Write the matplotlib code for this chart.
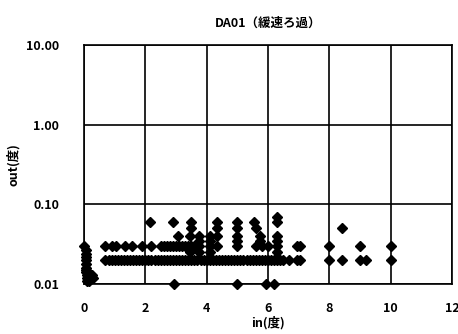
import matplotlib

matplotlib.use("Agg")
import matplotlib.pyplot as plt

plt.rcParams["font.family"] = ["Noto Sans CJK JP", "DejaVu Sans"]

TITLE = "DA01（緩速ろ過）"
XLABEL = "in(度)"
YLABEL = "out(度)"
X_TICKS = [0, 2, 4, 6, 8, 10, 12]
Y_TICKS = [0.01, 0.1, 1, 10]
Y_TICK_LABELS = ["0.01", "0.10", "1.00", "10.00"]

# samples near in=0 (low turbidity cluster)
near0_in = [0.0, 0.05, 0.05, 0.05, 0.05, 0.05, 0.05, 0.05, 0.05, 0.1, 0.1, 0.15, 0.2, 0.25, 0.3, 0.1]
near0_out = [0.03, 0.027, 0.024, 0.022, 0.02, 0.018, 0.016, 0.015, 0.014, 0.013, 0.012, 0.011,
             0.012, 0.013, 0.012, 0.011]

# out = 0.01
row01_in = [2.95, 5.0, 5.95, 6.2]
# out = 0.02
row02_in = [0.7, 0.8, 0.9, 1.0, 1.1, 1.2, 1.3, 1.4, 1.5, 1.6, 1.7, 1.8, 1.9, 2.0, 2.1, 2.2,
            2.3, 2.4, 2.5, 2.6, 2.7, 2.8, 2.9, 3.0, 3.1, 3.2, 3.3, 3.4, 3.5, 3.6, 3.7, 3.8,
            3.9, 4.0, 4.1, 4.2, 4.3, 4.4, 4.5, 4.6, 4.7, 4.8, 4.9, 5.0, 5.1, 5.2, 5.3, 5.4,
            5.5, 5.6, 5.7, 5.8, 5.9, 6.0, 6.1, 6.2, 6.3, 6.4, 6.5, 6.7, 6.95, 7.05,
            8.0, 8.4, 9.0, 9.2, 10.0]
# out = 0.025
row025_in = [3.45, 3.75, 4.1, 6.3]
# out = 0.03
row03_in = [0.7, 0.9, 1.05, 1.35, 1.55, 1.9, 2.2, 2.5, 2.6, 2.7, 2.8, 2.9, 3.0, 3.1, 3.2,
            3.3, 3.4, 3.5, 3.6, 3.75, 4.1, 4.35, 5.0, 5.6, 5.8, 6.0, 6.3, 6.95, 7.05,
            8.0, 9.0, 10.0]
# out = 0.035
row035_in = [3.75, 4.1, 5.0, 5.75, 6.3]
# out = 0.04
row04_in = [3.05, 3.45, 3.75, 4.1, 4.35, 5.0, 5.75, 6.3]
# out = 0.05
row05_in = [3.5, 4.35, 5.0, 5.6, 8.4]
# out = 0.06
row06_in = [2.15, 2.9, 3.5, 4.35, 5.0, 5.55, 6.3]
# out = 0.07
row07_in = [6.3]

rows = [
    (row01_in, 0.01), (row02_in, 0.02), (row025_in, 0.025), (row03_in, 0.03),
    (row035_in, 0.035), (row04_in, 0.04), (row05_in, 0.05), (row06_in, 0.06),
    (row07_in, 0.07),
]

x_in = list(near0_in)
y_out = list(near0_out)
for xs, yv in rows:
    x_in += xs
    y_out += [yv] * len(xs)

fig = plt.figure(figsize=(4.58, 3.34), dpi=100)
ax = fig.add_axes([84 / 458, 50 / 334, 368 / 458, 239 / 334])

ax.plot(x_in, y_out, linestyle="none", marker="D", markersize=5.5,
        color="black", markeredgecolor="black", clip_on=False)

ax.set_yscale("log")
ax.set_xlim(0, 12)
ax.set_ylim(0.01, 10)
ax.set_xticks(X_TICKS, [str(t) for t in X_TICKS])
ax.set_yticks(Y_TICKS, Y_TICK_LABELS)
ax.yaxis.set_minor_locator(matplotlib.ticker.NullLocator())
ax.tick_params(length=0, labelsize=9, pad=13)
ax.tick_params(axis="y", pad=18)
for lab in ax.get_xticklabels() + ax.get_yticklabels():
    lab.set_fontweight("bold")
ax.grid(True, color="black", linewidth=1.2)
ax.set_axisbelow(True)
for sp in ax.spines.values():
    sp.set_linewidth(1.2)

ax.set_title(TITLE, fontsize=9, fontweight="bold", pad=13)
ax.set_xlabel(XLABEL, fontsize=9, fontweight="bold", labelpad=1)
ax.set_ylabel(YLABEL, fontsize=9, fontweight="bold", labelpad=4)

fig.savefig("out.png", dpi=100)
